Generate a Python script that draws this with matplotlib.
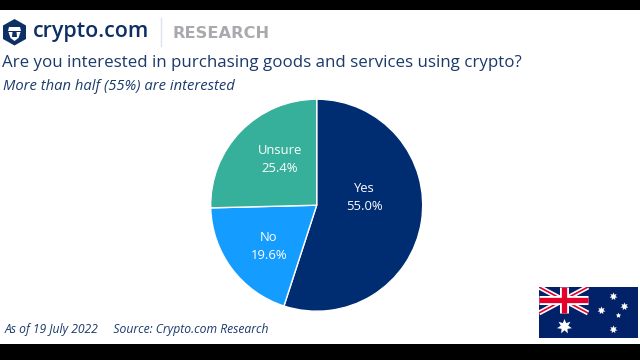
import matplotlib
matplotlib.use("Agg")
import matplotlib.pyplot as plt
from matplotlib.patches import Polygon, Rectangle

plt.rcParams['font.family'] = ['Open Sans', 'DejaVu Sans']

categories = ["Yes", "No", "Unsure"]
values = [55.0, 19.6, 25.4]
colors = ["#002D72", "#149CFF", "#36B09B"]

title = "Are you interested in purchasing goods and services using crypto?"
subtitle = "More than half (55%) are interested"
footer = "As of 19 July 2022     Source: Crypto.com Research"

fig = plt.figure(figsize=(6.4, 3.6), dpi=100)

# ---- page in pixel coords ----
bg = fig.add_axes([0, 0, 1, 1])
bg.set_xlim(0, 640)
bg.set_ylim(360, 0)
bg.axis("off")
bg.add_patch(Rectangle((0, 0), 640, 10, color="black", lw=0))
bg.add_patch(Rectangle((0, 344), 640, 16, color="black", lw=0))

# ---- logo ----
bg.add_patch(Polygon([(14.5, 19), (26, 25.5), (26, 39), (14.5, 45.5), (3, 39), (3, 25.5)], color="#0E2F66", lw=0))
bg.add_patch(Polygon([(9, 27), (20, 27), (21, 31), (8, 31)], color="white", lw=0))
bg.add_patch(Polygon([(8.5, 32), (12.5, 32), (12, 37), (14.5, 37), (17, 37), (16.5, 32), (20.5, 32),
                      (18.5, 38), (14.5, 41), (10.5, 38)], color="white", lw=0))
bg.text(33, 32, "crypto.com", fontsize=15.4, color="#0E2F66", weight="semibold", va="center", ha="left")
bg.plot([160.5, 160.5], [18, 46], color="#DDE3EA", lw=1)
bg.text(173, 33, "RESEARCH", fontsize=11.7, color="#A9A9AE", weight="bold", va="center", ha="left",
        family=["DejaVu Sans"])

bg.text(2, 63, title, fontsize=12.2, color="#1B3A6B", va="center", ha="left")
bg.text(3, 87, subtitle, fontsize=10.6, color="#1B3A6B", style="italic", va="center", ha="left")
bg.text(5, 330, footer, fontsize=8.7, color="#1B3A6B", style="italic", va="center", ha="left")

# ---- pie ----
cx, cy, r = 316.7, 205.2, 106
ax = fig.add_axes([(cx - r) / 640, 1 - (cy + r) / 360, 2 * r / 640, 2 * r / 360])
wedges, _ = ax.pie(values, colors=colors, startangle=90, counterclock=False, radius=1.0,
                   wedgeprops={"edgecolor": "white", "linewidth": 1})
ax.set_xlim(-1, 1)
ax.set_ylim(-1, 1)

label_pos = {"Yes": (364, 197.5), "No": (269, 246.5), "Unsure": (280, 159.5)}
for cat, val in zip(categories, values):
    x, y = label_pos[cat]
    bg.text(x, y, f"{cat}\n{val:.1f}%", fontsize=9.4, color="white", ha="center", va="center",
            linespacing=1.5, zorder=5)
bg.set_zorder(3)
bg.patch.set_alpha(0)

# ---- flag ----
fl = fig.add_axes([539 / 640, 1 - 338 / 360, 99 / 640, 51 / 360])
fl.set_xlim(539, 638)
fl.set_ylim(338, 287)
fl.axis("off")
fl.add_patch(Rectangle((539, 287), 99, 51, color="#012169", lw=0))
x0, x1, y0, y1 = 539, 588, 287, 313
mx, my = (x0 + x1) / 2, (y0 + y1) / 2
fl.plot([x0, x1], [y0, y1], color="white", lw=3.6, solid_capstyle="butt")
fl.plot([x0, x1], [y1, y0], color="white", lw=3.6, solid_capstyle="butt")
fl.plot([x0, x1], [y0, y1], color="#E4002B", lw=1.2, solid_capstyle="butt")
fl.plot([x0, x1], [y1, y0], color="#E4002B", lw=1.2, solid_capstyle="butt")
fl.plot([mx, mx], [y0, y1], color="white", lw=6.5, solid_capstyle="butt")
fl.plot([x0, x1], [my, my], color="white", lw=6.5, solid_capstyle="butt")
fl.plot([mx, mx], [y0, y1], color="#E4002B", lw=3.8, solid_capstyle="butt")
fl.plot([x0, x1], [my, my], color="#E4002B", lw=3.8, solid_capstyle="butt")
fl.scatter([563.5], [325.5], marker=(7, 1), s=120, color="white", lw=0)
fl.scatter([612.7, 600.7, 623.7, 612.7], [296, 309.7, 306, 329], marker=(7, 1), s=34, color="white", lw=0)
fl.scatter([617.7], [314.7], marker=(5, 1), s=16, color="white", lw=0)

fig.savefig("out.png", dpi=100)
